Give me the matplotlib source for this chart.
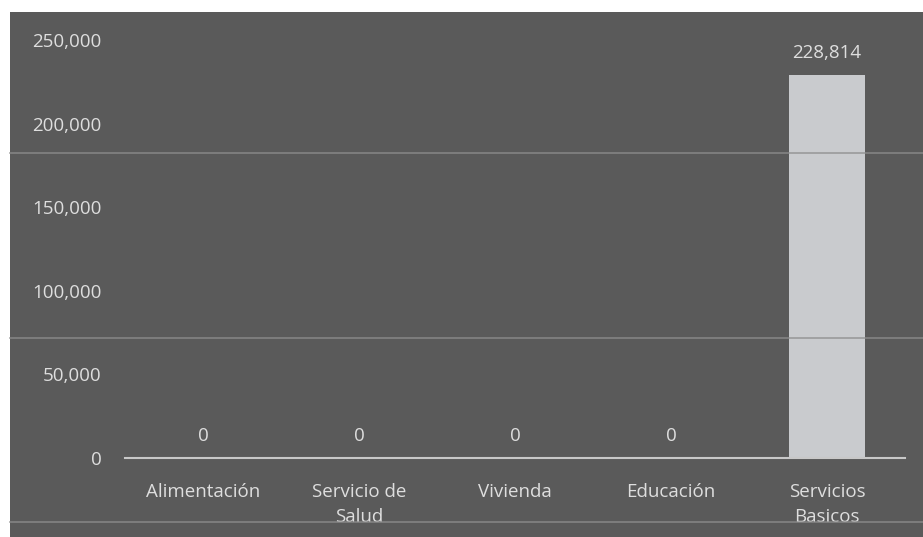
import matplotlib.pyplot as plt
from matplotlib.patches import Rectangle
from matplotlib.lines import Line2D

categorias = ["Alimentación", "Servicio de\nSalud", "Vivienda", "Educación", "Servicios\nBasicos"]
valores = [0, 0, 0, 0, 228814]
ticks = [0, 50000, 100000, 150000, 200000, 250000]

fondo = "#5a5a5a"
texto = "#dedede"
barra = "#c9cbce"

plt.rcParams['font.family'] = ['Open Sans', 'DejaVu Sans']

fig = plt.figure(figsize=(9.23, 5.37), dpi=100)
fig.patch.set_facecolor("white")
# fondo oscuro del grafico escaneado
fig.patches.append(Rectangle((10 / 923, 0), 1, 1 - 12 / 537, transform=fig.transFigure,
                             facecolor=fondo, edgecolor="none", zorder=-10))
# rayas claras del escaneo
for yy in [153, 338, 522]:
    fig.lines.append(Line2D([10 / 923, 1], [1 - yy / 537] * 2, transform=fig.transFigure,
                            color="#8e8e8e", lw=1.2, alpha=0.8))

ax = fig.add_axes([125 / 923, 1 - 458 / 537, 780 / 923, (458 - 40) / 537])
ax.set_facecolor("none")

x = range(len(categorias))
bars = ax.bar(x, valores, width=0.49, color=barra, zorder=2)
for b, v in zip(bars, valores):
    ax.text(b.get_x() + b.get_width() / 2, v + 8000, f"{v:,}", ha="center", va="bottom",
            color=texto, fontsize=13.5)

ax.set_xlim(-0.5, len(categorias) - 0.5)
ax.set_ylim(0, 250000)
ax.set_yticks(ticks)
ax.set_yticklabels([f"{t:,}" for t in ticks])
ax.set_xticks(list(x))
ax.set_xticklabels(categorias, linespacing=1.5)
ax.tick_params(axis="both", length=0, colors=texto, labelsize=13.5)
ax.tick_params(axis="y", pad=17)
ax.tick_params(axis="x", pad=18)
for s in ["top", "right", "left"]:
    ax.spines[s].set_visible(False)
ax.spines["bottom"].set_color("#c8c8c8")
ax.spines["bottom"].set_linewidth(1.5)

fig.savefig("out.png", dpi=100, facecolor=fig.get_facecolor())
